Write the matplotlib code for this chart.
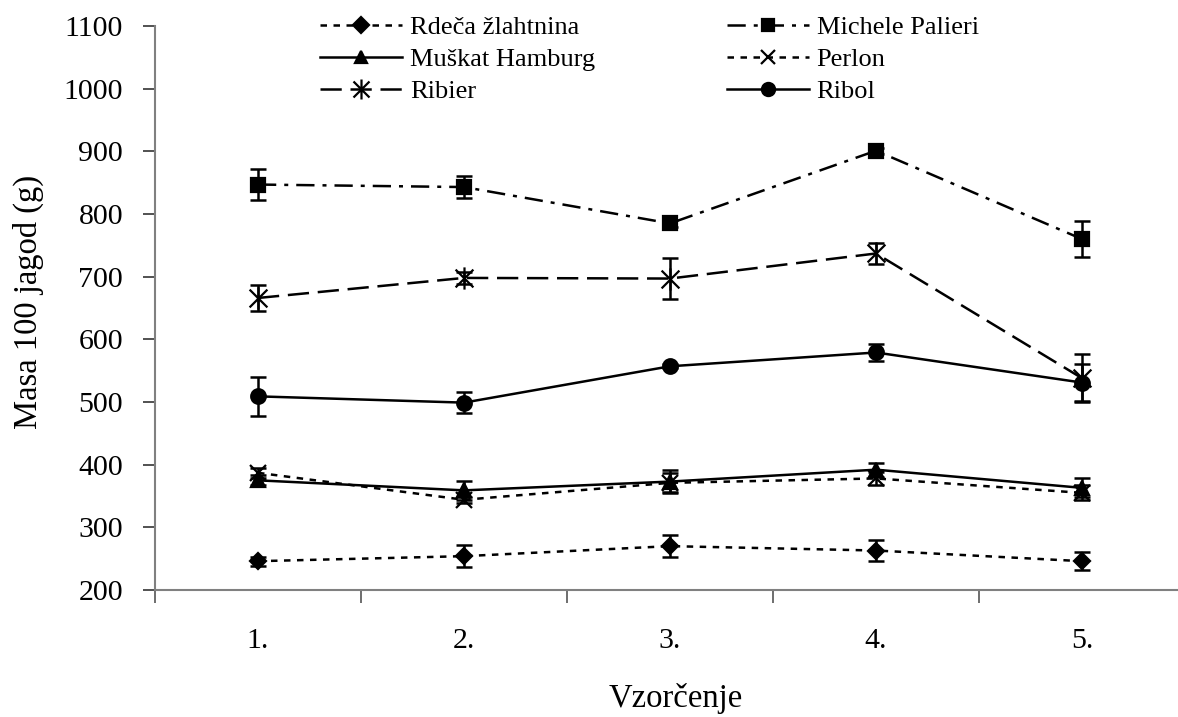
import matplotlib
matplotlib.use("Agg")
import matplotlib.pyplot as plt
from matplotlib.path import Path
from matplotlib.lines import Line2D

plt.rcParams['font.family'] = ['Liberation Serif', 'DejaVu Serif']

samplings = ["1.", "2.", "3.", "4.", "5."]
y_ticks = [200, 300, 400, 500, 600, 700, 800, 900, 1000, 1100]

rdeca = [246, 254, 270, 263, 246]
rdeca_err = [7, 18, 18, 16, 14]
michele = [847, 843, 785, 901, 760]
michele_err = [25, 17, 6, 5, 29]
muskat = [375, 359, 373, 392, 363]
muskat_err = [8, 15, 18, 11, 15]
perlon = [387, 344, 371, 378, 355]
perlon_err = [8, 5, 15, 10, 12]
ribier = [666, 698, 697, 737, 538]
ribier_err = [21, 10, 33, 17, 38]
ribol = [509, 499, 557, 579, 531]
ribol_err = [31, 17, 3, 13, 30]

labels = ["Rdeča žlahtnina", "Michele Palieri", "Muškat Hamburg",
          "Perlon", "Ribier", "Ribol"]

# Excel-like asterisk marker (X + vertical bar)
star_path = Path(
    [(-1, -1), (1, 1), (-1, 1), (1, -1), (0, -1.25), (0, 1.25)],
    [Path.MOVETO, Path.LINETO, Path.MOVETO, Path.LINETO, Path.MOVETO, Path.LINETO])

W, H = 1178, 717
fig = plt.figure(figsize=(W / 100, H / 100), dpi=100)
left, right, top, bottom = 155, 1185, 26, 590
ax = fig.add_axes([left / W, 1 - bottom / H, (right - left) / W, (bottom - top) / H])

x = list(range(1, len(samplings) + 1))
lw = 1.8

styles = [
    dict(data=rdeca, err=rdeca_err, ls=(0, (2.6, 2.6)), marker='D', ms=8.5, mfc='black'),
    dict(data=michele, err=michele_err, ls=(0, (7.3, 3.2, 1.6, 3.2)), marker='s', ms=9.5, mfc='black'),
    dict(data=muskat, err=muskat_err, ls='-', marker='^', ms=10, mfc='black'),
    dict(data=perlon, err=perlon_err, ls=(0, (2.6, 2.6)), marker='x', ms=11, mfc='none'),
    dict(data=ribier, err=ribier_err, ls=(0, (8.5, 3.5)), marker=star_path, ms=16, mfc='none'),
    dict(data=ribol, err=ribol_err, ls='-', marker='o', ms=10.5, mfc='black'),
]

handles = []
for st, lab in zip(styles, labels):
    ax.errorbar(x, st['data'], yerr=st['err'], fmt='none', ecolor='black',
                elinewidth=1.8, capsize=5.5, capthick=1.8, zorder=3)
    ax.plot(x, st['data'], color='black', lw=lw, ls=st['ls'], zorder=2)
    ax.plot(x, st['data'], ls='none', marker=st['marker'], ms=st['ms'],
            mfc=st['mfc'], mec='black', mew=1.6, color='black', zorder=4)
    h = Line2D([], [], color='black', lw=lw, ls=st['ls'], marker=st['marker'],
               ms=st['ms'] * 0.9, mfc=st['mfc'], mec='black', mew=1.6)
    handles.append(h)

ax.set_xlim(0.5, len(samplings) + 0.5)
ax.set_ylim(200, 1100)
ax.set_yticks(y_ticks)
ax.set_xticks([i + 0.5 for i in range(0, len(samplings) + 1)])
ax.set_xticklabels([])
ax.set_xticks(x, minor=True)
ax.set_xticklabels(samplings, minor=True)
ax.tick_params(axis='x', which='minor', length=0, pad=27, labelsize=21.5)
ax.tick_params(axis='x', which='major', length=9, width=1.2, color='#555555', direction='out')
ax.tick_params(axis='y', length=9, width=1.2, color='#333333', direction='out', pad=14, labelsize=21.5)

for s in ['top', 'right']:
    ax.spines[s].set_visible(False)
for s in ['left', 'bottom']:
    ax.spines[s].set_color('#808080')
    ax.spines[s].set_linewidth(1.5)

order = [0, 2, 4, 1, 3, 5]
leg = fig.legend([handles[i] for i in order], [labels[i] for i in order],
                 ncol=2, frameon=False, fontsize=19,
                 loc='upper left', bbox_to_anchor=(320 / W, 1 - 16 / H),
                 handlelength=3.1, handletextpad=0.3, columnspacing=5.0,
                 labelspacing=0.32, borderaxespad=0, borderpad=0)

fig.text(28 / W, 1 - 302 / H, "Masa 100 jagod (g)", rotation=90,
         ha='center', va='center', fontsize=23.5)
fig.text(676 / W, 1 - 707 / H, "Vzorčenje", ha='center', va='baseline', fontsize=23.5)

fig.savefig("out.png", dpi=100)
